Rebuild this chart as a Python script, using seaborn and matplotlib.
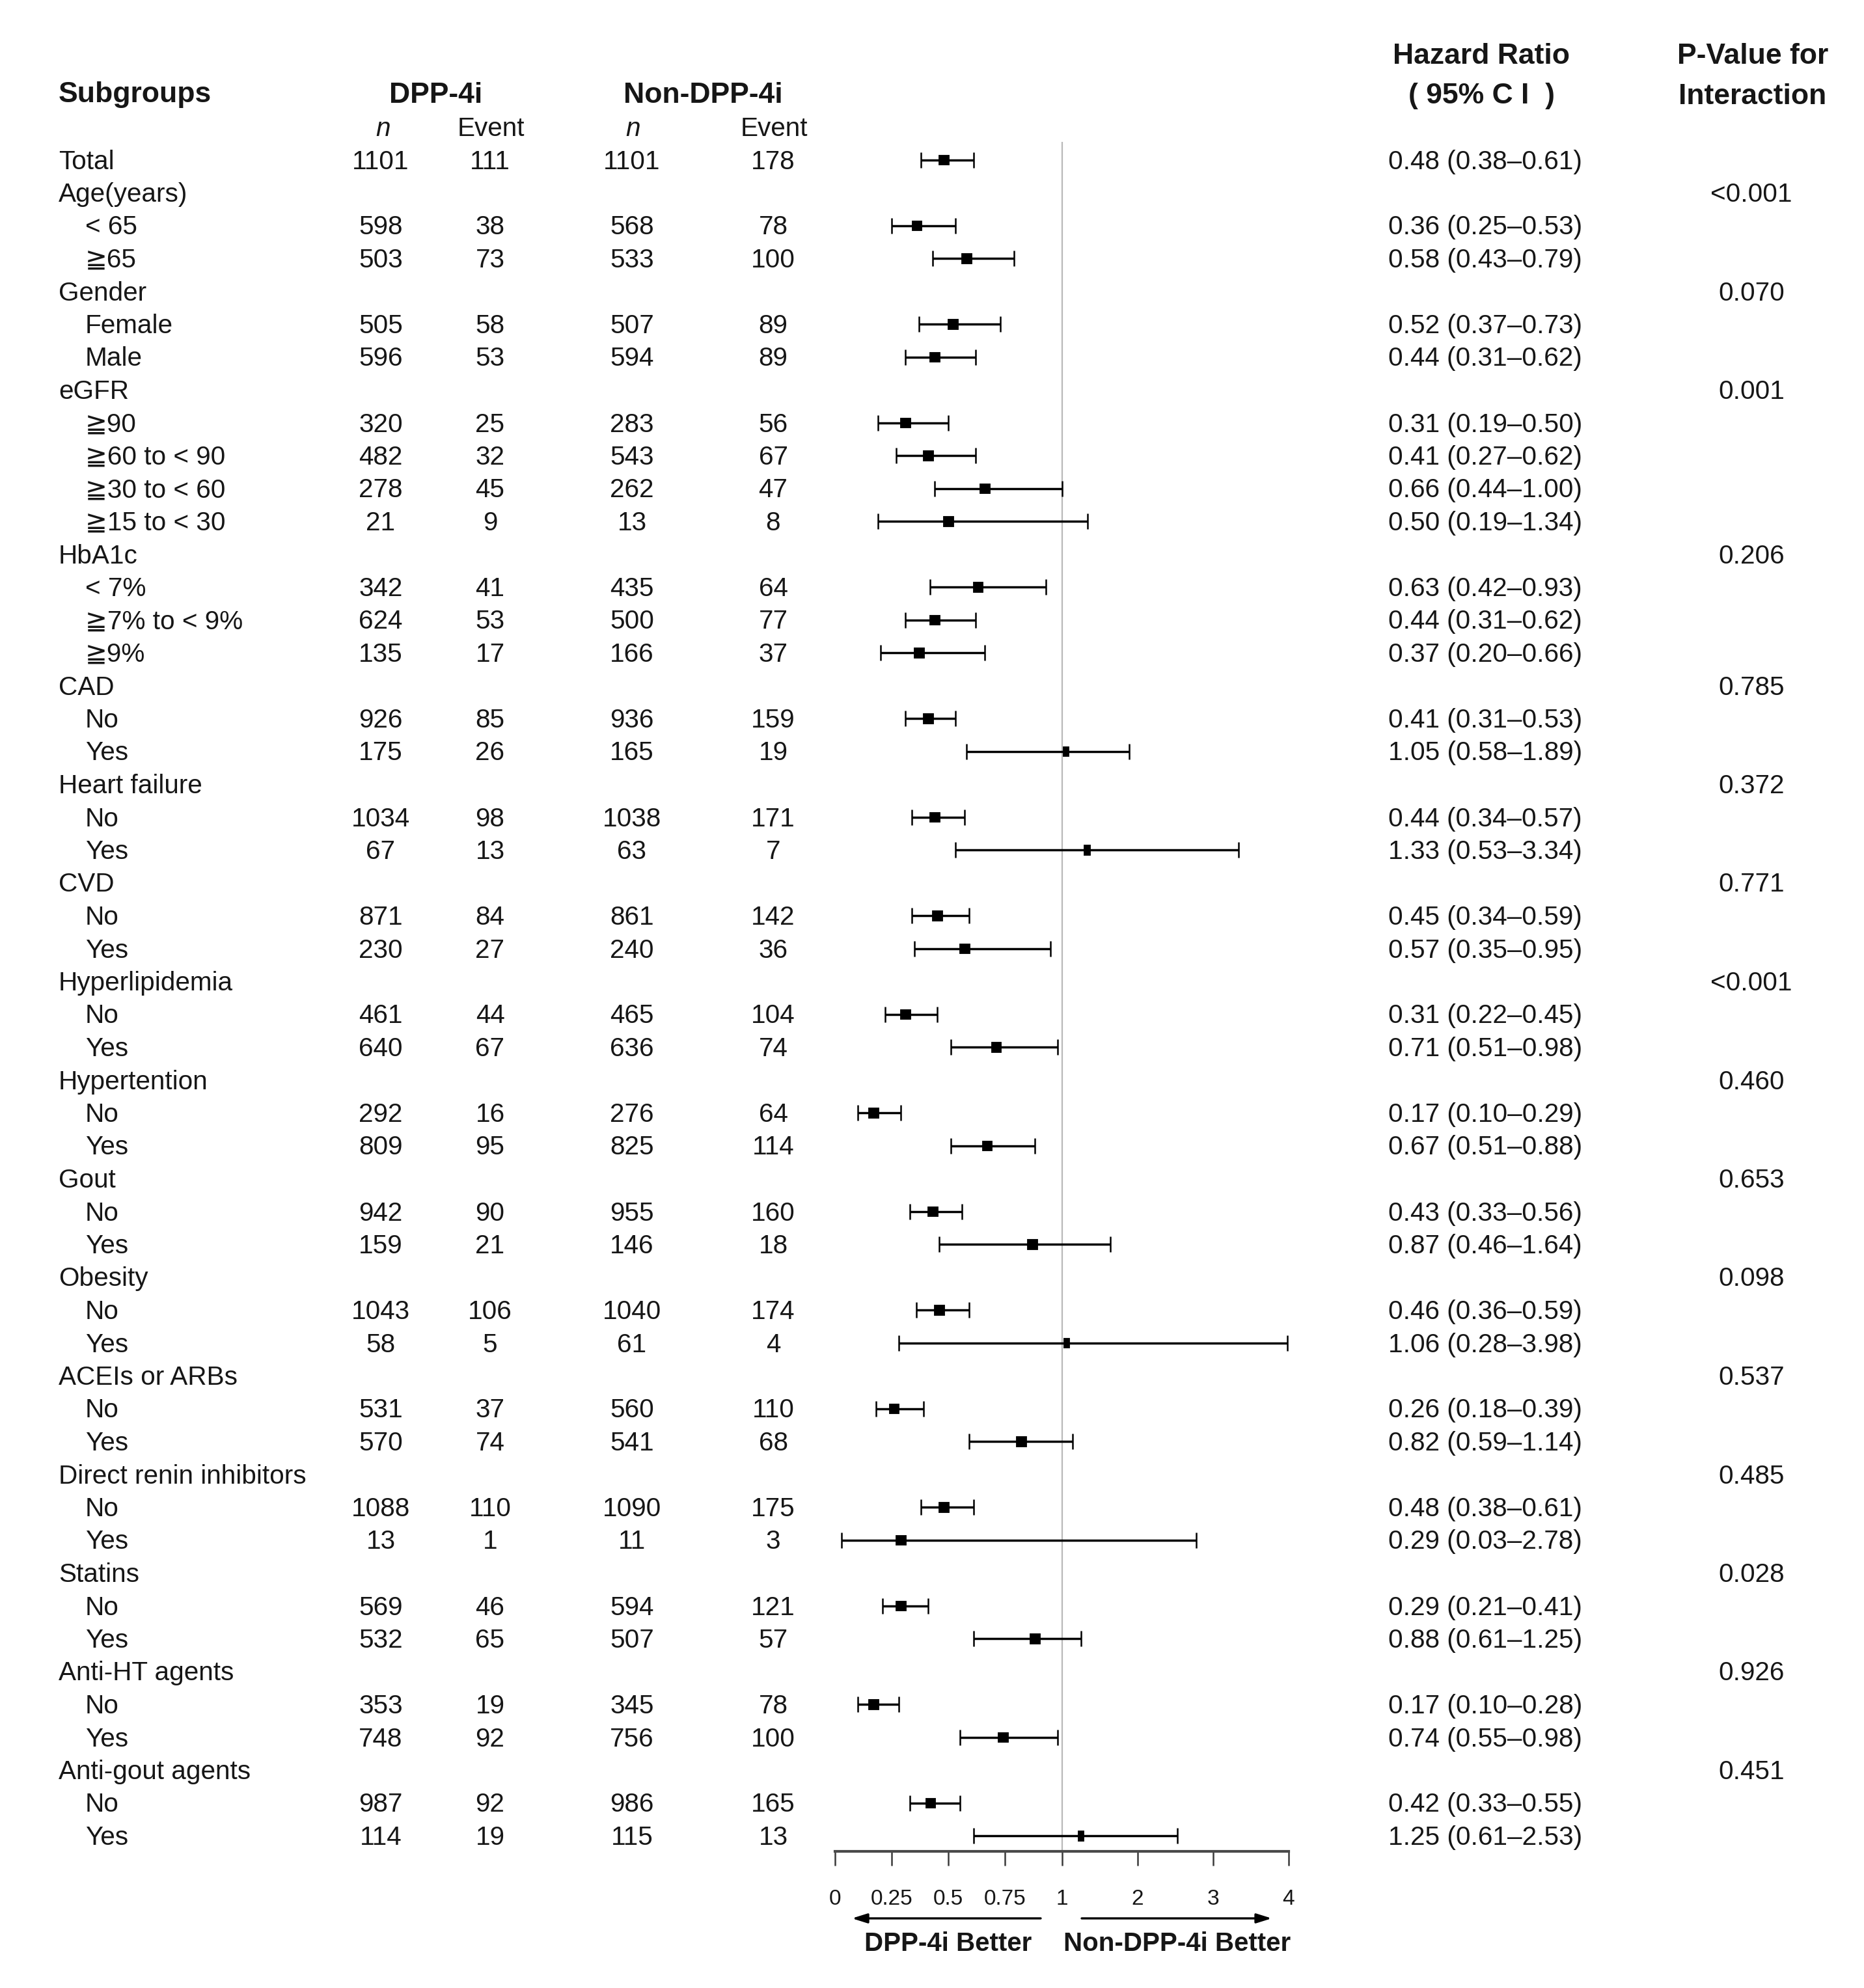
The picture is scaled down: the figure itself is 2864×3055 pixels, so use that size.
import numpy as np
import pandas as pd
import matplotlib
matplotlib.use("Agg")
import matplotlib.pyplot as plt
import seaborn as sns

# ---------------- data ----------------
labels = ["Total", "Age(years)", "< 65", "≧65", "Gender", "Female", "Male",
          "eGFR", "≧90", "≧60 to < 90", "≧30 to < 60", "≧15 to < 30",
          "HbA1c", "< 7%", "≧7% to < 9%", "≧9%",
          "CAD", "No", "Yes", "Heart failure", "No", "Yes", "CVD", "No", "Yes",
          "Hyperlipidemia", "No", "Yes", "Hypertention", "No", "Yes",
          "Gout", "No", "Yes", "Obesity", "No", "Yes", "ACEIs or ARBs", "No", "Yes",
          "Direct renin inhibitors", "No", "Yes", "Statins", "No", "Yes",
          "Anti-HT agents", "No", "Yes", "Anti-gout agents", "No", "Yes"]
is_header = [True, True, False, False, True, False, False,
             True, False, False, False, False,
             True, False, False, False,
             True, False, False, True, False, False, True, False, False,
             True, False, False, True, False, False,
             True, False, False, True, False, False, True, False, False,
             True, False, False, True, False, False,
             True, False, False, True, False, False]
N = None
dpp_n = [1101, N, 598, 503, N, 505, 596, N, 320, 482, 278, 21, N, 342, 624, 135,
         N, 926, 175, N, 1034, 67, N, 871, 230, N, 461, 640, N, 292, 809,
         N, 942, 159, N, 1043, 58, N, 531, 570, N, 1088, 13, N, 569, 532,
         N, 353, 748, N, 987, 114]
dpp_event = [111, N, 38, 73, N, 58, 53, N, 25, 32, 45, 9, N, 41, 53, 17,
             N, 85, 26, N, 98, 13, N, 84, 27, N, 44, 67, N, 16, 95,
             N, 90, 21, N, 106, 5, N, 37, 74, N, 110, 1, N, 46, 65,
             N, 19, 92, N, 92, 19]
non_n = [1101, N, 568, 533, N, 507, 594, N, 283, 543, 262, 13, N, 435, 500, 166,
         N, 936, 165, N, 1038, 63, N, 861, 240, N, 465, 636, N, 276, 825,
         N, 955, 146, N, 1040, 61, N, 560, 541, N, 1090, 11, N, 594, 507,
         N, 345, 756, N, 986, 115]
non_event = [178, N, 78, 100, N, 89, 89, N, 56, 67, 47, 8, N, 64, 77, 37,
             N, 159, 19, N, 171, 7, N, 142, 36, N, 104, 74, N, 64, 114,
             N, 160, 18, N, 174, 4, N, 110, 68, N, 175, 3, N, 121, 57,
             N, 78, 100, N, 165, 13]
hr = [0.48, N, 0.36, 0.58, N, 0.52, 0.44, N, 0.31, 0.41, 0.66, 0.50, N, 0.63, 0.44, 0.37,
      N, 0.41, 1.05, N, 0.44, 1.33, N, 0.45, 0.57, N, 0.31, 0.71, N, 0.17, 0.67,
      N, 0.43, 0.87, N, 0.46, 1.06, N, 0.26, 0.82, N, 0.48, 0.29, N, 0.29, 0.88,
      N, 0.17, 0.74, N, 0.42, 1.25]
ci_low = [0.38, N, 0.25, 0.43, N, 0.37, 0.31, N, 0.19, 0.27, 0.44, 0.19, N, 0.42, 0.31, 0.20,
          N, 0.31, 0.58, N, 0.34, 0.53, N, 0.34, 0.35, N, 0.22, 0.51, N, 0.10, 0.51,
          N, 0.33, 0.46, N, 0.36, 0.28, N, 0.18, 0.59, N, 0.38, 0.03, N, 0.21, 0.61,
          N, 0.10, 0.55, N, 0.33, 0.61]
ci_high = [0.61, N, 0.53, 0.79, N, 0.73, 0.62, N, 0.50, 0.62, 1.00, 1.34, N, 0.93, 0.62, 0.66,
           N, 0.53, 1.89, N, 0.57, 3.34, N, 0.59, 0.95, N, 0.45, 0.98, N, 0.29, 0.88,
           N, 0.56, 1.64, N, 0.59, 3.98, N, 0.39, 1.14, N, 0.61, 2.78, N, 0.41, 1.25,
           N, 0.28, 0.98, N, 0.55, 2.53]
p_interaction = [N, "<0.001", N, N, "0.070", N, N, "0.001", N, N, N, N, "0.206", N, N, N,
                 "0.785", N, N, "0.372", N, N, "0.771", N, N, "<0.001", N, N, "0.460", N, N,
                 "0.653", N, N, "0.098", N, N, "0.537", N, N, "0.485", N, N, "0.028", N, N,
                 "0.926", N, N, "0.451", N, N]
tick_values = [0, 0.25, 0.5, 0.75, 1, 2, 3, 4]
tick_labels = ["0", "0.25", "0.5", "0.75", "1", "2", "3", "4"]

# ---------------- style ----------------
sns.set_theme(style="white")
plt.rcParams["font.family"] = ["Liberation Sans", "DejaVu Sans"]
TXT = "#161616"

W, H, DPI = 2864, 3055, 200
fig = plt.figure(figsize=(W / DPI, H / DPI), dpi=DPI)
fig.patch.set_facecolor("white")

# table layer in pixel units
ax_t = fig.add_axes([0, 0, 1, 1])
ax_t.set_xlim(0, W)
ax_t.set_ylim(H, 0)
ax_t.axis("off")

ROW0, ROWH = 245.5, 50.5
DY = 3  # text baseline nudge
nrows = len(labels)
rows = np.arange(nrows)

FS = 14.6
FSB = 16

# headers
ax_t.text(90, 143 + DY, "Subgroups", fontsize=FSB, fontweight="bold", ha="left", va="center", color=TXT)
ax_t.text(670, 143 + DY, "DPP-4i", fontsize=FSB, fontweight="bold", ha="center", va="center", color=TXT)
ax_t.text(1080, 143 + DY, "Non-DPP-4i", fontsize=FSB, fontweight="bold", ha="center", va="center", color=TXT)
for xx, t, st in [(589, "n", "italic"), (754, "Event", "normal"),
                  (973, "n", "italic"), (1189, "Event", "normal")]:
    ax_t.text(xx, 195 + DY, t, fontsize=FS, style=st, ha="center", va="center", color=TXT)
ax_t.text(2276, 83 + DY, "Hazard Ratio", fontsize=FSB, fontweight="bold", ha="center", va="center", color=TXT)
ax_t.text(2276, 145 + DY, "( 95% C I  )", fontsize=FSB, fontweight="bold", ha="center", va="center", color=TXT)
ax_t.text(2693, 83 + DY, "P-Value for", fontsize=FSB, fontweight="bold", ha="center", va="center", color=TXT)
ax_t.text(2693, 145 + DY, "Interaction", fontsize=FSB, fontweight="bold", ha="center", va="center", color=TXT)

for i in range(nrows):
    y = ROW0 + ROWH * i + DY
    x0 = 90 if is_header[i] else 131
    ax_t.text(x0, y, labels[i], fontsize=FS, ha="left", va="center", color=TXT)
    for xx, arr in [(585, dpp_n), (753, dpp_event), (971, non_n), (1188, non_event)]:
        if arr[i] is not None:
            ax_t.text(xx, y, str(arr[i]), fontsize=FS, ha="center", va="center", color=TXT)
    if hr[i] is not None:
        ax_t.text(2133, y, f"{hr[i]:.2f} ({ci_low[i]:.2f}\u2013{ci_high[i]:.2f})",
                  fontsize=FS, ha="left", va="center", color=TXT)
    if p_interaction[i] is not None:
        ax_t.text(2691, y, p_interaction[i], fontsize=FS, ha="center", va="center", color=TXT)

# ---------------- forest axes ----------------
x_left, x_right = 1283, 1980
y_top, y_bot = 218, 2845
ax_f = fig.add_axes([x_left / W, 1 - y_bot / H, (x_right - x_left) / W, (y_bot - y_top) / H])
ax_f.patch.set_alpha(0)


def fwd(x):
    x = np.asarray(x, dtype=float)
    return np.where(x <= 1, x, 1 + (x - 1) / 3.0)


def inv(t):
    t = np.asarray(t, dtype=float)
    return np.where(t <= 1, t, 1 + 3.0 * (t - 1))


ax_f.set_xscale("function", functions=(fwd, inv))

df = pd.DataFrame({"row": rows, "hr": hr, "lo": ci_low, "hi": ci_high}).dropna().astype(float)
# boxes right of 1 are drawn compressed by the axis break
df["shape"] = np.where(df["hr"] > 1, "narrow", "square")

ax_f.axvline(1, color="#b9b9b9", lw=0.8, zorder=1)
ax_f.errorbar(df["hr"], df["row"], xerr=[df["hr"] - df["lo"], df["hi"] - df["hr"]],
              fmt="none", ecolor="black", elinewidth=1.25, capsize=4.2, capthick=0.9, zorder=3)
narrow = [(-0.3, -0.5), (0.3, -0.5), (0.3, 0.5), (-0.3, 0.5), (-0.3, -0.5)]
sns.scatterplot(data=df, x="hr", y="row", style="shape",
                markers={"square": "s", "narrow": narrow},
                s=32, color="black", edgecolor="black", linewidth=0.3,
                legend=False, ax=ax_f, zorder=4)

ax_f.set_xlim(0, 4)
ax_f.set_ylim((y_bot - ROW0) / ROWH, (y_top - ROW0) / ROWH)
ax_f.set_xticks(tick_values)
ax_f.set_xticklabels(tick_labels)
ax_f.set_yticks([])
ax_f.set_xlabel("")
ax_f.set_ylabel("")
for s in ["top", "left", "right"]:
    ax_f.spines[s].set_visible(False)
ax_f.spines["bottom"].set_color("#4a4a4a")
ax_f.spines["bottom"].set_linewidth(1.5)
ax_f.tick_params(axis="x", bottom=True, direction="out", length=8, width=0.9,
                 color="#3a3a3a", pad=13, labelsize=12, labelcolor=TXT)

# arrows + favour labels
ax_t.annotate("", xy=(1309, 2948), xytext=(1599, 2948),
              arrowprops=dict(arrowstyle="-|>,head_length=0.7,head_width=0.22", color="black",
                              lw=1.2, mutation_scale=10, shrinkA=0, shrinkB=0))
ax_t.annotate("", xy=(1954, 2948), xytext=(1662, 2948),
              arrowprops=dict(arrowstyle="-|>,head_length=0.7,head_width=0.22", color="black",
                              lw=1.2, mutation_scale=10, shrinkA=0, shrinkB=0))
ax_t.text(1457, 2987, "DPP-4i Better", fontsize=14.5, fontweight="bold", ha="center", va="center", color=TXT)
ax_t.text(1809, 2987, "Non-DPP-4i Better", fontsize=14.5, fontweight="bold", ha="center", va="center", color=TXT)

fig.savefig("out.png", dpi=DPI, facecolor="white")
